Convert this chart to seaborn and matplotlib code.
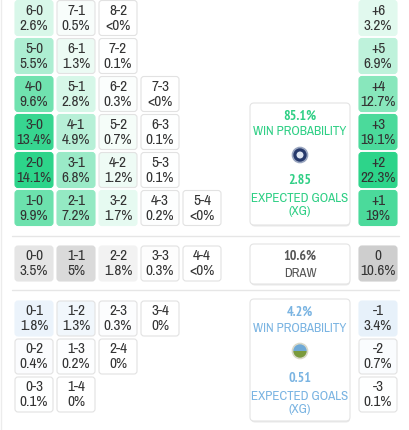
import seaborn as sns
import matplotlib.pyplot as plt
import matplotlib.font_manager as fm
from matplotlib.patches import FancyBboxPatch, Circle, Wedge
from matplotlib.colors import Normalize

# home win scorelines, one list per margin (+6 at top ... +1 at bottom)
home_scores = [
    ["6-0", "7-1", "8-2"],
    ["5-0", "6-1", "7-2"],
    ["4-0", "5-1", "6-2", "7-3"],
    ["3-0", "4-1", "5-2", "6-3"],
    ["2-0", "3-1", "4-2", "5-3"],
    ["1-0", "2-1", "3-2", "4-3", "5-4"],
]
home_pct = [
    ["2.6%", "0.5%", "<0%"],
    ["5.5%", "1.3%", "0.1%"],
    ["9.6%", "2.8%", "0.3%", "<0%"],
    ["13.4%", "4.9%", "0.7%", "0.1%"],
    ["14.1%", "6.8%", "1.2%", "0.1%"],
    ["9.9%", "7.2%", "1.7%", "0.2%", "<0%"],
]
draw_scores = ["0-0", "1-1", "2-2", "3-3", "4-4"]
draw_pct = ["3.5%", "5%", "1.8%", "0.3%", "<0%"]
away_scores = [
    ["0-1", "1-2", "2-3", "3-4"],
    ["0-2", "1-3", "2-4"],
    ["0-3", "1-4"],
]
away_pct = [
    ["1.8%", "1.3%", "0.3%", "0%"],
    ["0.4%", "0.2%", "0%"],
    ["0.1%", "0%"],
]
margin_home = ["+6", "+5", "+4", "+3", "+2", "+1"]
margin_home_pct = ["3.2%", "6.9%", "12.7%", "19.1%", "22.3%", "19%"]
margin_draw = ["0"]
margin_draw_pct = ["10.6%"]
margin_away = ["-1", "-2", "-3"]
margin_away_pct = ["3.4%", "0.7%", "0.1%"]

home_win = "85.1%"
home_xg = "2.85"
draw_prob = "10.6%"
away_win = "4.2%"
away_xg = "0.51"

sns.set_theme(style="white")

# look for an upright narrow face, the reference uses a condensed sans
narrow = [f for f in fm.fontManager.ttflist
          if f.style == "normal" and ("Narrow" in f.name or "Condensed" in f.name
                                      or "ondensed" in str(f.stretch))]
narrow.sort(key=lambda f: 0 if "Narrow" in f.name else 1)
if narrow:
    reg = [f for f in narrow if f.weight in (400, "normal", "regular", "book")] or narrow
    bld = [f for f in narrow if f.weight in (700, "bold")] or reg
    FP = fm.FontProperties(fname=reg[0].fname)
    FPB = fm.FontProperties(fname=bld[0].fname)
    CELL_FS, BOX_FS, NUM_FS = 11, 9.4, 10
else:
    FP = fm.FontProperties(family=["Roboto", "DejaVu Sans"])
    FPB = fm.FontProperties(family=["Roboto", "DejaVu Sans"], weight="bold")
    CELL_FS, BOX_FS, NUM_FS = 9.3, 7.6, 8.5

GREEN = "#2dd48a"
BLUE = "#63a1e0"
GRAY = "#979797"
cmaps = {
    "home": sns.blend_palette(["white", GREEN], as_cmap=True),
    "away": sns.blend_palette(["white", BLUE], as_cmap=True),
    "draw": sns.blend_palette(["white", GRAY], as_cmap=True),
}


def num(s):
    s = s.rstrip("%")
    return 0.0 if s.startswith("<") else float(s)


grid_norm = Normalize(0, 14.1)
margin_norm = Normalize(0, 22.3)

fig = plt.figure(figsize=(4.09, 4.31), dpi=100)
ax = fig.add_axes([0, 0, 1, 1])
ax.set_xlim(0, 409)
ax.set_ylim(431, 0)
ax.axis("off")

CW, CH = 38, 35
COL0, COLSTEP = 15, 42
ROWSTEP = 38
RIGHT_X = 359


def txt(x, y, s, color, bold=False, size=None):
    ax.text(x, y, s, ha="center", va="center", color=color,
            fontproperties=(FPB if bold else FP).copy(),
            fontsize=size or (NUM_FS if bold else BOX_FS))


def cell(x, y, top, pct, kind, norm):
    t = norm(num(pct))
    face = cmaps[kind](min(t, 1.0))
    edge = face if t > 0.12 else "#e2e2e2"
    ax.add_patch(FancyBboxPatch((x, y), CW, CH, boxstyle="round,pad=0,rounding_size=3",
                                facecolor=face, edgecolor=edge, linewidth=0.8))
    txt(x + CW / 2, y + 9.5, top, "#333333", size=CELL_FS)
    txt(x + CW / 2, y + 24.5, pct, "#333333", size=CELL_FS)


# home block
for r, (scores, pcts) in enumerate(zip(home_scores, home_pct)):
    y = 1.5 + ROWSTEP * r
    for c, (s, p) in enumerate(zip(scores, pcts)):
        cell(COL0 + COLSTEP * c, y, s, p, "home", grid_norm)
    cell(RIGHT_X, y, margin_home[r], margin_home_pct[r], "home", margin_norm)

# draw block
y_draw = 247
for c, (s, p) in enumerate(zip(draw_scores, draw_pct)):
    cell(COL0 + COLSTEP * c, y_draw, s, p, "draw", grid_norm)
cell(RIGHT_X, y_draw, margin_draw[0], margin_draw_pct[0], "draw", margin_norm)

# away block
for r, (scores, pcts) in enumerate(zip(away_scores, away_pct)):
    y = 302 + ROWSTEP * r
    for c, (s, p) in enumerate(zip(scores, pcts)):
        cell(COL0 + COLSTEP * c, y, s, p, "away", grid_norm)
    cell(RIGHT_X, y, margin_away[r], margin_away_pct[r], "away", margin_norm)

# separators
for yy in (237, 291):
    ax.plot([12, 399], [yy, yy], color="#e6e6e6", lw=1)
ax.plot([1, 1], [0, 431], color="#ececec", lw=1)


def summary_box(y0, h):
    ax.add_patch(FancyBboxPatch((251, y0 + 1.5), 99, h, boxstyle="round,pad=0,rounding_size=4",
                                facecolor="#e9e9e9", edgecolor="none"))
    ax.add_patch(FancyBboxPatch((250, y0), 100, h, boxstyle="round,pad=0,rounding_size=4",
                                facecolor="white", edgecolor="#e4e4e4", linewidth=0.8))


# home summary
summary_box(104, 122)
tg = "#2fcf85"
txt(300, 116, home_win, tg, bold=True)
txt(300, 132, "WIN PROBABILITY", tg)
ax.add_patch(Circle((300, 156), 7.5, facecolor="#26396b", edgecolor="#9aa6c0", lw=1.2))
ax.add_patch(Circle((300, 156), 3.5, facecolor="#dfe6f2", edgecolor="none"))
txt(300, 181, home_xg, tg, bold=True)
txt(300, 199, "EXPECTED GOALS", tg)
txt(300, 212, "(XG)", tg)

# draw summary
summary_box(245, 40)
txt(300, 256, draw_prob, "#555555", bold=True)
txt(300, 274, "DRAW", "#555555")

# away summary
summary_box(300, 122)
tb = "#7ab4e2"
txt(300, 312, away_win, tb, bold=True)
txt(300, 329, "WIN PROBABILITY", tb)
ax.add_patch(Wedge((300, 352), 7.5, 0, 180, facecolor="#7a9a3c", edgecolor="none"))
ax.add_patch(Wedge((300, 352), 7.5, 180, 360, facecolor="#6fa9d6", edgecolor="none"))
ax.add_patch(Circle((300, 352), 7.5, facecolor="none", edgecolor="#d8d8c8", lw=1.2))
txt(300, 379, away_xg, tb, bold=True)
txt(300, 397, "EXPECTED GOALS", tb)
txt(300, 410, "(XG)", tb)

fig.savefig("out.png", dpi=100, facecolor="white")
